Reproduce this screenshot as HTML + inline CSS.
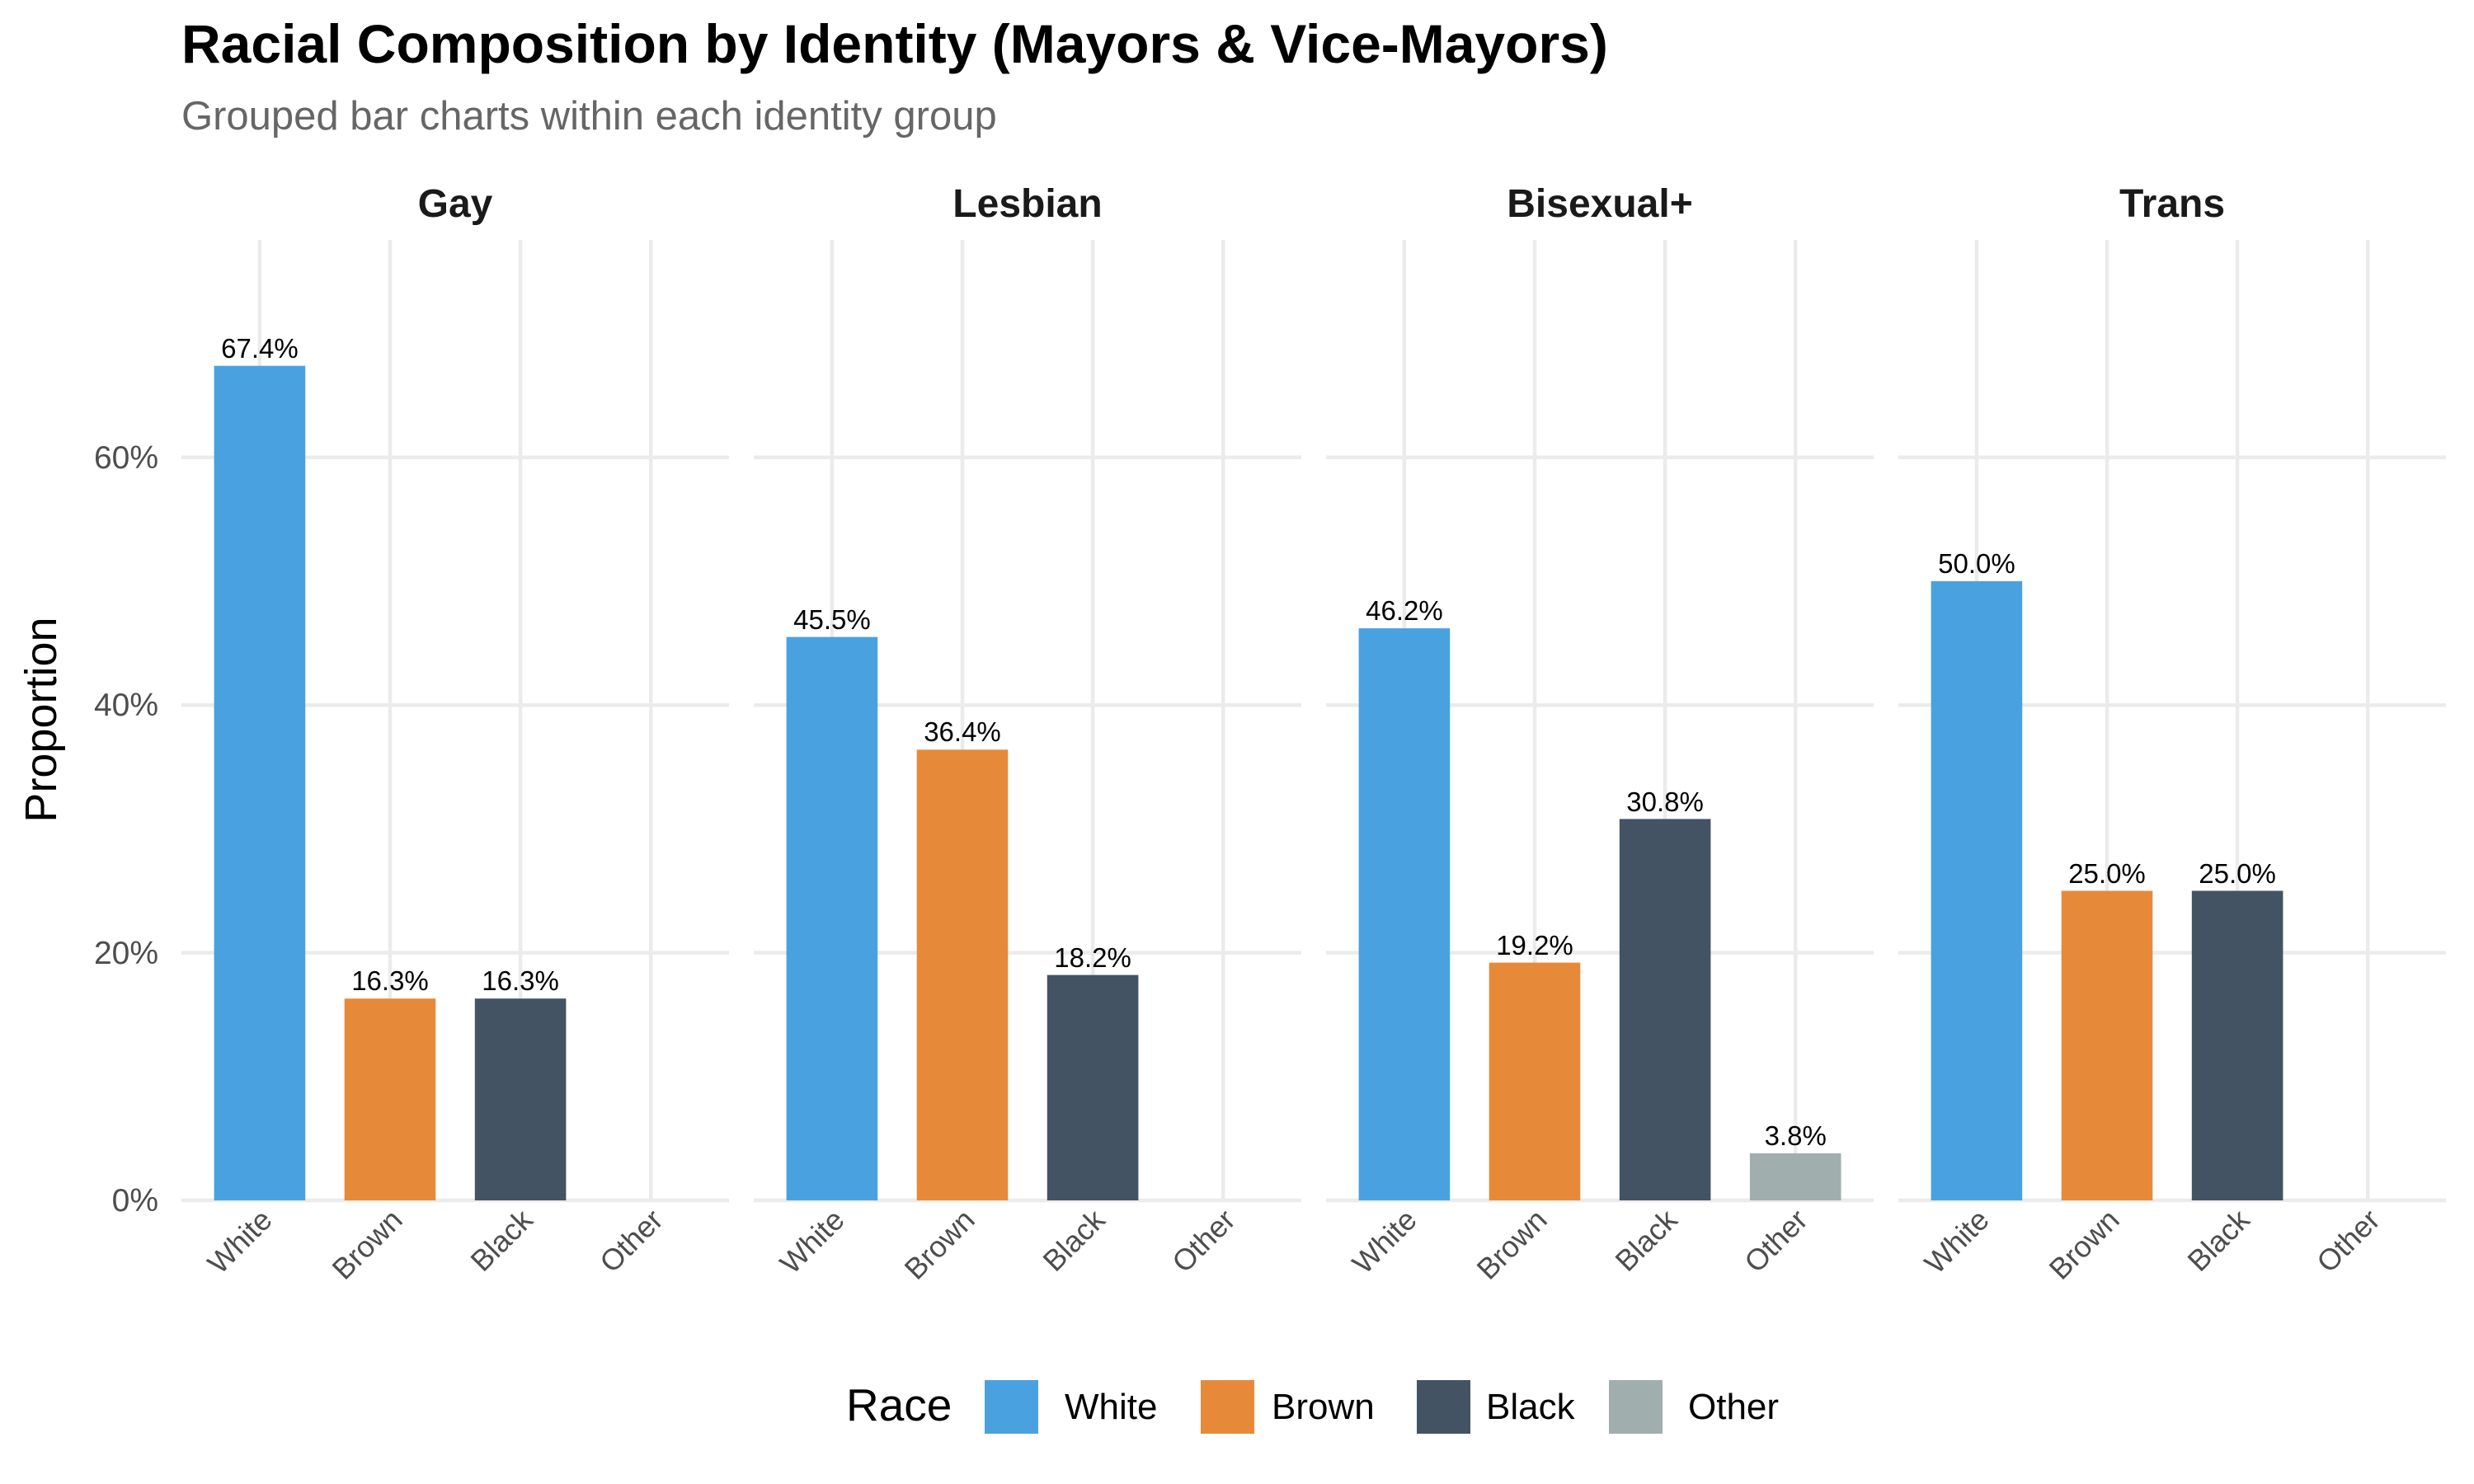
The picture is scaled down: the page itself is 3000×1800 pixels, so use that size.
<!DOCTYPE html>
<html><head><meta charset="utf-8"><style>html,body{margin:0;padding:0;background:#fff}svg{display:block}text{font-family:"Liberation Sans",Arial,sans-serif}</style></head>
<body>
<svg width="3000" height="1800" viewBox="0 0 3000 1800" xmlns="http://www.w3.org/2000/svg">
<rect width="3000" height="1800" fill="#fff"/>
<defs>
<g id="grid" stroke="#ebebeb" stroke-width="4.5" fill="none">
<line x1="0" x2="664" y1="1456" y2="1456"/>
<line x1="0" x2="664" y1="1155.6" y2="1155.6"/>
<line x1="0" x2="664" y1="855.2" y2="855.2"/>
<line x1="0" x2="664" y1="554.8" y2="554.8"/>
<line x1="94.9" x2="94.9" y1="291" y2="1456"/>
<line x1="253" x2="253" y1="291" y2="1456"/>
<line x1="411.1" x2="411.1" y1="291" y2="1456"/>
<line x1="569.2" x2="569.2" y1="291" y2="1456"/>
</g>
<g id="xl" font-size="36" fill="#4d4d4d" text-anchor="end">
<text transform="translate(112,1482) rotate(-45)">White</text>
<text transform="translate(270,1482) rotate(-45)">Brown</text>
<text transform="translate(428,1482) rotate(-45)">Black</text>
<text transform="translate(586,1482) rotate(-45)">Other</text>
</g>
</defs>

<text x="220" y="76" font-size="66" font-weight="bold" fill="#000">Racial Composition by Identity (Mayors &amp; Vice-Mayors)</text>
<text x="220" y="157" font-size="49" fill="#666">Grouped bar charts within each identity group</text>

<g font-size="39" fill="#4d4d4d" text-anchor="end">
<text x="192" y="1469">0%</text>
<text x="192" y="1169">20%</text>
<text x="192" y="868">40%</text>
<text x="192" y="568">60%</text>
</g>
<text transform="translate(68,873) rotate(-90)" font-size="54" text-anchor="middle" fill="#000">Proportion</text>

<g font-size="33" fill="#000" text-anchor="middle">
<g transform="translate(220,0)">
<use href="#grid"/>
<text x="332" y="263" font-size="48" font-weight="bold" fill="#1a1a1a">Gay</text>
<rect x="39.6" y="443.7" width="110.6" height="1012.3" fill="#4aa1df"/>
<rect x="197.7" y="1211.2" width="110.6" height="244.8" fill="#e68a3a"/>
<rect x="355.8" y="1211.2" width="110.6" height="244.8" fill="#435364"/>
<text x="94.9" y="434">67.4%</text>
<text x="253" y="1201">16.3%</text>
<text x="411.1" y="1201">16.3%</text>
<use href="#xl"/>
</g>
<g transform="translate(914,0)">
<use href="#grid"/>
<text x="332" y="263" font-size="48" font-weight="bold" fill="#1a1a1a">Lesbian</text>
<rect x="39.6" y="772.6" width="110.6" height="683.4" fill="#4aa1df"/>
<rect x="197.7" y="909.3" width="110.6" height="546.7" fill="#e68a3a"/>
<rect x="355.8" y="1182.6" width="110.6" height="273.4" fill="#435364"/>
<text x="94.9" y="763">45.5%</text>
<text x="253" y="899">36.4%</text>
<text x="411.1" y="1173">18.2%</text>
<use href="#xl"/>
</g>
<g transform="translate(1608,0)">
<use href="#grid"/>
<text x="332" y="263" font-size="48" font-weight="bold" fill="#1a1a1a">Bisexual+</text>
<rect x="39.6" y="762.1" width="110.6" height="693.9" fill="#4aa1df"/>
<rect x="197.7" y="1167.6" width="110.6" height="288.4" fill="#e68a3a"/>
<rect x="355.8" y="993.4" width="110.6" height="462.6" fill="#435364"/>
<rect x="513.9" y="1398.9" width="110.6" height="57.1" fill="#a0aeae"/>
<text x="94.9" y="752">46.2%</text>
<text x="253" y="1158">19.2%</text>
<text x="411.1" y="984">30.8%</text>
<text x="569.2" y="1389">3.8%</text>
<use href="#xl"/>
</g>
<g transform="translate(2302,0)">
<use href="#grid"/>
<text x="332" y="263" font-size="48" font-weight="bold" fill="#1a1a1a">Trans</text>
<rect x="39.6" y="705" width="110.6" height="751" fill="#4aa1df"/>
<rect x="197.7" y="1080.5" width="110.6" height="375.5" fill="#e68a3a"/>
<rect x="355.8" y="1080.5" width="110.6" height="375.5" fill="#435364"/>
<text x="94.9" y="695">50.0%</text>
<text x="253" y="1071">25.0%</text>
<text x="411.1" y="1071">25.0%</text>
<use href="#xl"/>
</g>
</g>

<text x="1026" y="1723" font-size="55" fill="#000">Race</text>
<rect x="1194" y="1674" width="65" height="65" fill="#4aa1df"/>
<text x="1291" y="1721" font-size="44" fill="#000">White</text>
<rect x="1456" y="1674" width="65" height="65" fill="#e68a3a"/>
<text x="1542" y="1721" font-size="44" fill="#000">Brown</text>
<rect x="1718" y="1674" width="65" height="65" fill="#435364"/>
<text x="1802" y="1721" font-size="44" fill="#000">Black</text>
<rect x="1951" y="1674" width="65" height="65" fill="#a0aeae"/>
<text x="2047" y="1721" font-size="44" fill="#000">Other</text>
</svg>
</body></html>
